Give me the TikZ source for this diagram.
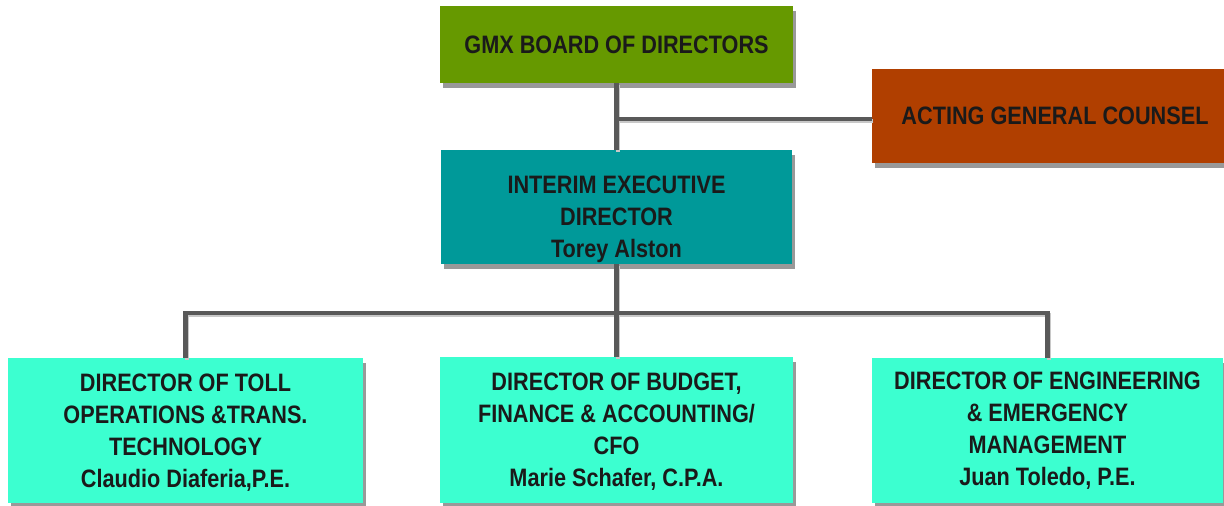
\documentclass[tikz,border=0pt]{standalone}
\usepackage{fontspec}
\setmainfont{Liberation Sans}[FakeStretch=0.86]
\usetikzlibrary{shadows}
\definecolor{boardgreen}{HTML}{669900}
\definecolor{counselrust}{HTML}{B03F00}
\definecolor{execteal}{HTML}{009999}
\definecolor{aquabox}{HTML}{3CFFD0}
\definecolor{wiregray}{HTML}{595959}
\definecolor{wireshade}{HTML}{C8C8C8}
\definecolor{shadowgray}{HTML}{999999}
\definecolor{inkdark}{HTML}{1A1A1A}
\begin{document}
\begin{tikzpicture}[x=1pt,y=1pt,
  box/.style={draw=none, inner sep=0pt, align=center,
    drop shadow={shadow xshift=3pt, shadow yshift=-5pt, fill=shadowgray, opacity=1}},
  label text/.style={inner sep=0pt, align=center, text=inkdark,
    font=\fontsize{25.2}{32}\selectfont\bfseries},
  wire/.style={draw=wiregray, line width=4.5pt, line join=miter},
  wireshadow/.style={draw=wireshade, line width=4.5pt, line join=miter}]
\useasboundingbox (0,0) rectangle (1224,-506);
\fill[white] (0,0) rectangle (1224,-506);
% boxes
\node[box, fill=boardgreen, minimum width=353pt, minimum height=77pt] (board) at (616.5,-44.5) {};
\node[box, fill=counselrust, minimum width=352pt, minimum height=94pt] (counsel) at (1048,-116) {};
\node[box, fill=execteal, minimum width=351pt, minimum height=114pt] (exec) at (616.5,-207) {};
\node[box, fill=aquabox, minimum width=355pt, minimum height=145pt] (left) at (185.5,-430.5) {};
\node[box, fill=aquabox, minimum width=353pt, minimum height=146pt] (mid) at (616.5,-430) {};
\node[box, fill=aquabox, minimum width=351pt, minimum height=145pt] (right) at (1047.5,-430.5) {};
% connectors
\coordinate (cw) at ([yshift=-3pt]counsel.west);
\coordinate (bus) at (exec.south |- 0,-313);
\begin{scope}[transform canvas={shift={(1.5pt,-2pt)}}]
\draw[wireshadow] (board.south) -- (exec.north);
\draw[wireshadow] (cw) -- (cw -| board.south);
\draw[wireshadow] (exec.south) -- (mid.north);
\draw[wireshadow] (left.north) |- (bus) -| (right.north);
\end{scope}
\draw[wire] (board.south) -- (exec.north);
\draw[wire] (cw) -- (cw -| board.south);
\draw[wire] (exec.south) -- (mid.north);
\draw[wire] (left.north) |- (bus) -| (right.north);
% texts
\node[label text] (boardtext) at (board.center) {GMX BOARD OF DIRECTORS};
\node[label text] (counseltext) at ([xshift=7pt]counsel.center) {ACTING GENERAL COUNSEL};
\node[label text] (exectext) at (616.5,-219) {INTERIM EXECUTIVE\\DIRECTOR\\Torey Alston};
\node[label text] (lefttext) at ([yshift=-2pt]left.center) {DIRECTOR OF TOLL\\OPERATIONS \&TRANS.\\TECHNOLOGY\\Claudio Diaferia,P.E.};
\node[label text] (midtext) at ([yshift=-2pt]mid.center) {DIRECTOR OF BUDGET,\\FINANCE \& ACCOUNTING/\\CFO\\Marie Schafer, C.P.A.};
\node[label text] (righttext) at (right.center) {DIRECTOR OF ENGINEERING\\\& EMERGENCY\\MANAGEMENT\\Juan Toledo, P.E.};
\end{tikzpicture}
\end{document}
